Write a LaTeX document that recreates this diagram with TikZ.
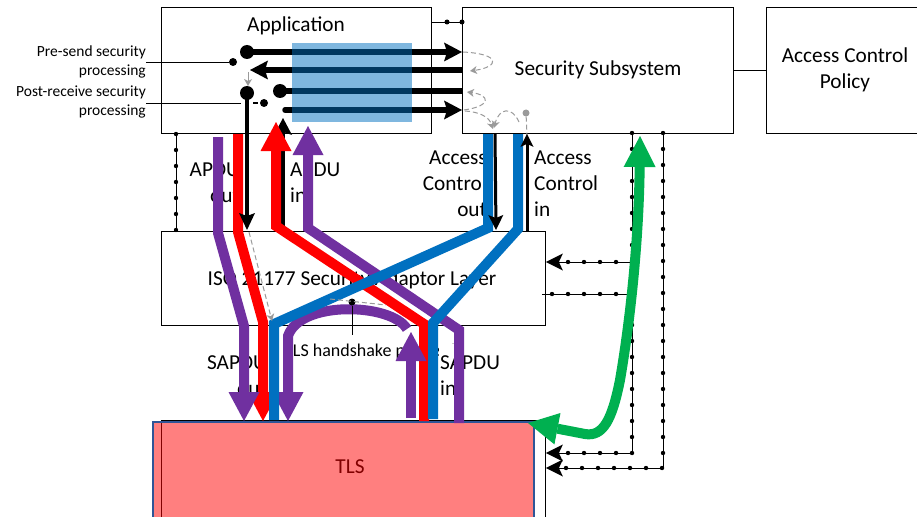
\documentclass[tikz,border=0pt]{standalone}
\usepackage{fontspec}
\setmainfont{Carlito}
\usetikzlibrary{arrows.meta}
\definecolor{cpurple}{HTML}{7030A0}
\definecolor{cred}{HTML}{FF0000}
\definecolor{cblue}{HTML}{0070C0}
\definecolor{cgreen}{HTML}{00B050}
\definecolor{cgray}{HTML}{9A9A9A}
\definecolor{tlsedge}{HTML}{2F5597}
\newcommand\fbig{\fontsize{21.3pt}{26pt}\selectfont}
\newcommand\fmid{\fontsize{18pt}{22pt}\selectfont}
\newcommand\fsmall{\fontsize{15.5pt}{19pt}\selectfont}
\begin{document}
\begin{tikzpicture}[x=1pt,y=-1pt,
  box/.style={draw=black,line width=0.9pt,fill=white,inner sep=0pt,anchor=north west},
  lbl/.style={inner sep=0pt,font=\fbig},
  conn/.style={draw=black,line width=0.9pt},
  dotrow/.style={draw=black,line width=4.4pt,line cap=round,dash pattern=on 0pt off 16pt},
  dtip/.style={-{Stealth[length=17pt,width=17pt,inset=4pt,line width=0pt]}},
  band/.style={line width=10pt,line join=miter},
  btip/.style={-{Triangle[length=29pt,width=31pt,line width=0pt]}},
  rtip/.style={{Triangle[length=29pt,width=31pt,line width=0pt]}-},
  bigdot/.style={circle,fill=black,inner sep=0pt,minimum size=14pt},
  smalldot/.style={circle,fill=black,inner sep=0pt,minimum size=8pt},
  tinydot/.style={circle,fill=black,inner sep=0pt,minimum size=7pt},
  gdash/.style={draw=cgray,line width=1pt,dash pattern=on 5pt off 3pt},
  gtip/.style={-{Stealth[length=7pt,width=8pt,inset=2pt,line width=0pt]}},
  heavy/.style={line width=5.5pt,draw=black},
  htip/.style={-{Stealth[length=18pt,width=19pt,inset=3pt,line width=0pt]}}
]
\useasboundingbox (0,0) rectangle (917,516);

% ---------- blocks ----------
\node[box,minimum width=270pt,minimum height=126pt] (app) at (161,7) {};
\node[box,minimum width=271pt,minimum height=126pt] (sec) at (462,7) {};
\node[box,minimum width=170pt,minimum height=126pt] (acp) at (766,7) {};
\node[box,minimum width=384pt,minimum height=94pt]  (sal) at (161,231) {};
\node[box,minimum width=384pt,minimum height=110pt] (tlsbase) at (161,420) {};

\node[font=\fbig] (apptext) at (296,26) {Application};
\node[font=\fbig] (sectext) at (598,70) {Security Subsystem};
\node[font=\fbig,align=center] (acptext) at (845,70) {Access Control\\Policy};
\node[font=\fbig] (saltext) at (352,280) {ISO 21177 Security Adaptor Layer};
\node[font=\fbig] (tlstext) at (350,467) {TLS};

% TLS layer tint
\node[anchor=north west,minimum width=381pt,minimum height=110pt,inner sep=0pt,
      draw=tlsedge,line width=1.6pt,fill=cred,fill opacity=0.5] (tls) at (152,421) {};

\draw[conn] (acp.west) -- (sec.east);

% ---------- labels ----------
\node[font=\fsmall,align=right,anchor=east,inner sep=0pt] (presend) at (146,62) {Pre-send security\\processing};
\node[font=\fsmall,align=right,anchor=east,inner sep=0pt] (postrecv) at (146,102) {Post-receive security\\processing};
\node[lbl,align=right,anchor=east] (apduout) at (240,183) {APDU\\out};
\node[lbl,align=left,anchor=west] (apduin) at (290,183) {APDU\\in};
\node[lbl,align=right,anchor=east] (acout) at (487,184) {Access\\Control\\out};
\node[lbl,align=left,anchor=west] (acin) at (534,184) {Access\\Control\\in};
\node[font=\fmid,anchor=west,inner sep=0pt] (hstext) at (284,352) {TLS handshake processing};
\node[lbl,align=right,anchor=east] (sapduout) at (267,376) {SAPDU\\out};
\node[lbl,align=left,anchor=west,fill=white,inner xsep=1pt,inner ysep=12pt] (sapduin) at (439,376) {SAPDU\\in};

% ---------- dotted control connectors ----------
\draw[conn] (app.east |- 0,22) -- (sec.west |- 0,22);
\node[tinydot,minimum size=5pt] (tj1) at (447,22) {};
\node[tinydot,minimum size=5pt] (tj2) at (462,22) {};

\draw[conn] (176,0 |- app.south) -- (176,0 |- sal.north);
\draw[dotrow] (176,134) -- (176,231);

\draw[conn,dtip] (632,0 |- sec.south) -- (632,453) -- (tlsbase.east |- 0,453);
\draw[dotrow] (632,133) -- (632,453) -- (560,453);
\draw[conn,dtip] (632,262) -- (sal.east |- 0,262);
\draw[dotrow] (616,262) -- (562,262);
\draw[conn] (632,294) -- (542,294);
\draw[dotrow] (616,294) -- (548,294);
\draw[conn,dtip] (663,0 |- sec.south) -- (663,468) -- (tlsbase.east |- 0,468);
\draw[dotrow] (663,133) -- (663,468) -- (560,468);

% ---------- application internals ----------
\node[bigdot] (d1) at (247,52) {};
\node[bigdot] (d2) at (247,93) {};
\node[bigdot] (d3) at (280,91) {};
\node[smalldot] (s1) at (233,62) {};
\node[smalldot] (s2) at (264,103) {};
\coordinate (r2end) at (250,70);
\coordinate (l4start) at (285,110);

\draw[conn] (presend.east |- s1) -- (s1);
\draw[conn] (postrecv.east |- 0,103) -- (241,103);
\draw[black,line width=1.5pt] (253,103) -- (258,103);

\draw[heavy,htip] (d1.center) -- (sec.west |- d1.center);
\draw[heavy,htip] (sec.west |- 0,70) -- (r2end);
\draw[heavy] (d3.center) -- (sec.west |- d3.center);
\draw[heavy,line cap=round,htip] (l4start) -- (sec.west |- l4start);

% tinted area over the message paths
\fill[cblue,fill opacity=0.5] (292,43) rectangle (412,122);

\draw[gdash,gtip,dash pattern=] (r2end) ++(-2,2) -- (248,86);

% handover loops at the security subsystem
\draw[gdash,gtip] (463,52) .. controls (502,54) and (499,67) .. (470,71);
\draw[gdash,gtip] (464,110) .. controls (492,106) and (490,95) .. (467,92);
\draw[gdash,gtip] (465,111) .. controls (480,112) and (489,117) .. (493,129);
\draw[gdash,gtip] (519,122) .. controls (512,106) and (499,108) .. (494,128);
\node[circle,fill=cgray,inner sep=0pt,minimum size=7pt] (gd) at (526,113) {};
\draw[gdash] (gd) -- (527,135);

% ---------- message bands ----------
\draw[line width=3.5pt,-{Stealth[length=17pt,width=18pt,inset=3pt,line width=0pt]}] (283,230) -- (283,118);

\draw[band,cred,btip] (238,134) -- (238,232) -- (263,322) -- (263,421);
\draw[band,cred,rtip] (276,122) -- (276,226) -- (424,324) -- (424,421);

\draw[line width=4pt,-{Stealth[length=17pt,width=16pt,inset=3pt,line width=0pt]}] (d2.center) -- (247,230);

\draw[band,cpurple,btip] (218,137) -- (218,233) -- (244,326) -- (244,421);
\draw[band,cpurple,rtip] (308,126) -- (308,228) -- (459,330) -- (459,423);
\draw[band,cpurple,btip] (407,329) .. controls (392,303) and (300,300) .. (288,336) -- (288,421);
\draw[band,cpurple,btip] (411,418) -- (411,332);

\draw[band,cblue] (488,134) -- (488,228) -- (274,324) -- (274,420);
\draw[band,cblue] (518,134) -- (518,229) -- (433,323) -- (433,419);

\draw[line width=3pt,-{Stealth[length=15pt,width=15pt,inset=3pt,line width=0pt]}] (495,0 |- sec.south) -- (496,230);
\draw[line width=3pt,-{Stealth[length=13pt,width=13pt,inset=3pt,line width=0pt]}] (527,231) -- (527,0 |- sec.south);

\draw[gdash,gtip] (249,232) -- (272,321);

% handshake switch
\node[tinydot] (hs) at (352,302) {};
\draw[gdash] (330,299) -- (386,305);
\draw[conn] (hs) -- (352,335);

% ---------- policy path ----------
\draw[line width=10pt,cgreen,{Triangle[length=30pt,width=32pt,line width=0pt]}-{Triangle[length=31pt,width=32pt,line width=0pt]}]
  (528,423) -- (585,434) .. controls (603,437) and (612,420) .. (620,380)
  .. controls (632,310) and (639,230) .. (640,136);
\end{tikzpicture}
\end{document}
